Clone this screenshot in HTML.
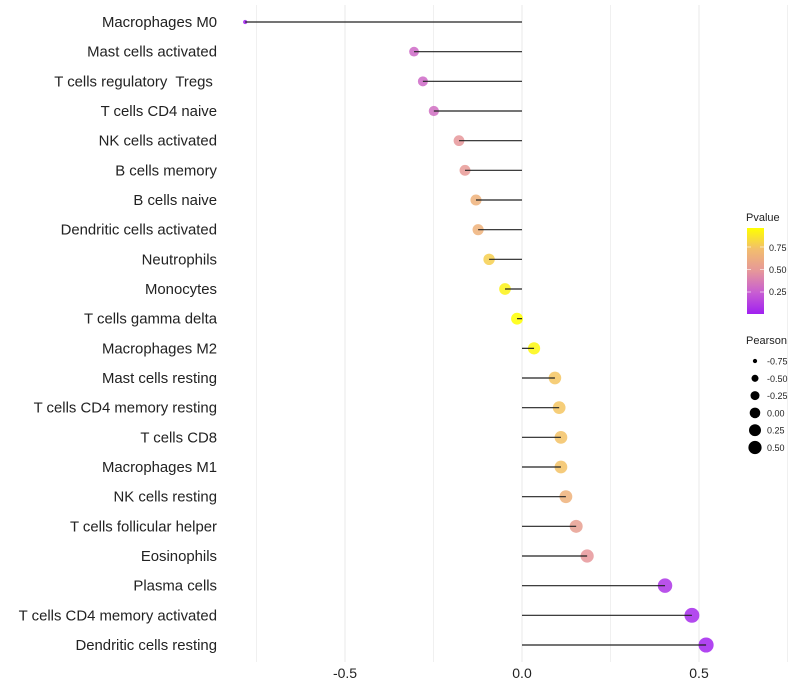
<!DOCTYPE html>
<html><head><meta charset="utf-8"><style>
body{margin:0;background:#fff;font-family:"Liberation Sans",sans-serif}
svg{display:block}
text{white-space:pre}
</style></head><body>
<svg id="chart" width="800" height="700">
<defs><linearGradient id="pg" x1="0" y1="1" x2="0" y2="0">
<stop offset="0" stop-color="#A020F0"/><stop offset="0.25" stop-color="#C85ED2"/><stop offset="0.5" stop-color="#E6979A"/><stop offset="0.75" stop-color="#F2BD6E"/><stop offset="1" stop-color="#FFFF00"/>
</linearGradient></defs>
<g id="grid"></g><g id="dots"></g><g id="marks"></g><g id="labels"></g>
<g font-size="10" fill="#222">
<text x="746" y="221" font-size="11">Pvalue</text>
<rect x="747" y="228" width="17" height="86" fill="url(#pg)"/>
<g stroke="#fff" stroke-opacity="0.6"><line x1="747" x2="751" y1="292" y2="292"/><line x1="760" x2="764" y1="292" y2="292"/><line x1="747" x2="751" y1="269.5" y2="269.5"/><line x1="760" x2="764" y1="269.5" y2="269.5"/><line x1="747" x2="751" y1="247" y2="247"/><line x1="760" x2="764" y1="247" y2="247"/></g>
<text x="769" y="251" font-size="9">0.75</text><text x="769" y="273" font-size="9">0.50</text><text x="769" y="295" font-size="9">0.25</text>
<text x="746" y="344" font-size="11">Pearson</text>
</g>
<g id="sizeleg"></g>
</svg>
<script>
const categories=["Macrophages M0","Mast cells activated","T cells regulatory  Tregs ","T cells CD4 naive","NK cells activated","B cells memory","B cells naive","Dendritic cells activated","Neutrophils","Monocytes","T cells gamma delta","Macrophages M2","Mast cells resting","T cells CD4 memory resting","T cells CD8","Macrophages M1","NK cells resting","T cells follicular helper","Eosinophils","Plasma cells","T cells CD4 memory activated","Dendritic cells resting"];
const pearson=[-0.782,-0.305,-0.28,-0.249,-0.178,-0.161,-0.13,-0.124,-0.093,-0.048,-0.014,0.034,0.093,0.105,0.11,0.11,0.124,0.153,0.184,0.404,0.48,0.52];
const pvalue=[0.0,0.3,0.3,0.32,0.5,0.52,0.68,0.68,0.82,0.95,1.0,0.97,0.78,0.78,0.77,0.77,0.68,0.55,0.5,0.08,0.04,0.02];
const xTicks=[-0.5,0,0.5];
const xMinor=[-0.75,-0.25,0.25,0.75];
const sizeLegend=[-0.75,-0.5,-0.25,0,0.25,0.5];
const NS="http://www.w3.org/2000/svg";
const X=v=>522+v*354;
const Y=i=>22+i*(623/21);
const R=v=>Math.sqrt(Math.max(31+34.6*v,2));
function lerp(a,b,t){return a.map((c,i)=>Math.round(c+(b[i]-c)*t));}
const stops=[[160,32,240],[200,94,210],[230,151,154],[242,189,110],[255,255,0]];
function col(p){p=Math.min(Math.max(p,0),1);const k=Math.min(Math.floor(p*4),3);return `rgb(${lerp(stops[k],stops[k+1],p*4-k)})`;}
function mk(t,a,parent){const e=document.createElementNS(NS,t);for(const k in a)e.setAttribute(k,a[k]);parent.appendChild(e);return e;}
const grid=document.getElementById('grid'),marks=document.getElementById('marks'),dots=document.getElementById('dots'),labels=document.getElementById('labels');
xMinor.forEach(v=>{const l=mk('line',{x1:X(v),x2:X(v),y1:5,y2:662,stroke:'#f0f0f0','stroke-width':1},grid);

});
xTicks.forEach(v=>{const l=mk('line',{x1:X(v),x2:X(v),y1:5,y2:662,stroke:'#e8e8e8','stroke-width':1},grid);


const t=mk('text',{x:X(v),y:678,'text-anchor':'middle','font-size':14,fill:'#222'},labels);t.textContent=v===0?'0.0':v.toFixed(1);

});
categories.forEach((c,i)=>{const y=Y(i);
const d=mk('circle',{cx:X(pearson[i]),cy:y,r:R(pearson[i])*1.08,fill:col(pvalue[i]),'fill-opacity':0.85},dots);


const s=mk('line',{x1:X(0),x2:X(pearson[i]),y1:y,y2:y,stroke:'#222','stroke-width':1.2},marks);


const t=mk('text',{x:217,y:y+5,'text-anchor':'end','font-size':14.9,fill:'#222'},labels);t.textContent=c;

});
const sl=document.getElementById('sizeleg');
sizeLegend.forEach((v,i)=>{const y=361+i*17.3;
const c=mk('circle',{cx:755,cy:y,r:R(v)*0.95,fill:'#000'},sl);


const t=mk('text',{x:767,y:y+3.5,'font-size':9,fill:'#222'},sl);t.textContent=v.toFixed(2);

});
</script>
</body></html>
